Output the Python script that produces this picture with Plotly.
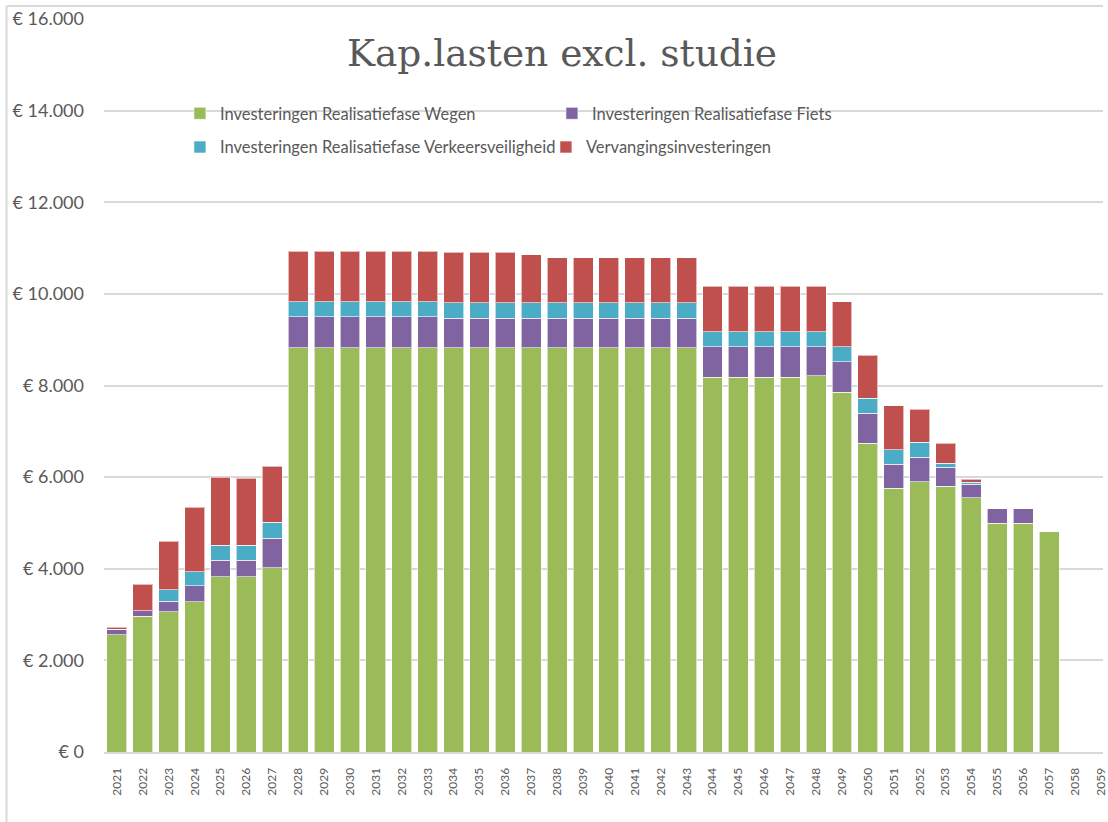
"""Stacked capital charges chart (Kap.lasten excl. studie)."""

import plotly.graph_objects as go


# ── Data ──────────────────────────────────────────────────────────────────────

YEARS = [
    "2021", "2022", "2023", "2024", "2025", "2026", "2027", "2028", "2029", "2030",
    "2031", "2032", "2033", "2034", "2035", "2036", "2037", "2038", "2039", "2040",
    "2041", "2042", "2043", "2044", "2045", "2046", "2047", "2048", "2049", "2050",
    "2051", "2052", "2053", "2054", "2055", "2056", "2057", "2058", "2059",
]

WEGEN = [
    2557, 2965, 3059, 3277, 3823, 3823, 4018, 8829, 8829, 8829,
    8829, 8829, 8829, 8829, 8829, 8829, 8829, 8829, 8829, 8829,
    8829, 8829, 8829, 8175, 8175, 8175, 8175, 8210, 7848, 6743,
    5762, 5901, 5806, 5550, 4992, 4992, 4811, 0, 0,
]

FIETS = [
    118, 115, 233, 356, 363, 363, 647, 669, 669, 669,
    669, 669, 669, 638, 638, 638, 638, 638, 638, 638,
    638, 638, 638, 676, 676, 676, 676, 641, 670, 647,
    523, 530, 407, 299, 320, 320, 0, 0, 0,
]

VERKEERSVEILIGHEID = [
    0, 0, 247, 306, 327, 327, 349, 334, 334, 334,
    334, 334, 334, 336, 336, 336, 336, 336, 336, 336,
    336, 336, 336, 327, 327, 327, 327, 327, 333, 334,
    314, 335, 94, 37, 0, 0, 0, 0, 0,
]

VERVANGING = [
    43, 583, 1061, 1402, 1482, 1460, 1221, 1097, 1097, 1097,
    1097, 1097, 1097, 1104, 1104, 1104, 1054, 981, 981, 981,
    981, 981, 981, 988, 988, 988, 988, 988, 974, 938,
    957, 719, 436, 66, 0, 0, 0, 0, 0,
]

SERIES = [
    ("Investeringen Realisatiefase Wegen", WEGEN, "#9BBB59", "legend"),
    ("Investeringen Realisatiefase Fiets", FIETS, "#8064A2", "legend"),
    ("Investeringen Realisatiefase Verkeersveiligheid", VERKEERSVEILIGHEID, "#4BACC6", "legend2"),
    ("Vervangingsinvesteringen", VERVANGING, "#C0504D", "legend2"),
]

TITLE = "Kap.lasten excl. studie"
GREY = "#595959"
GRID = "#d9d9d9"


# ── Figure ────────────────────────────────────────────────────────────────────

fig = go.Figure()
for name, values, color, legend in SERIES:
    fig.add_trace(go.Bar(
        x=YEARS, y=values, name=name, legend=legend,
        marker=dict(color=color, line=dict(color="rgba(255,255,255,0.6)", width=1)),
    ))

legend_style = dict(
    orientation="h", xanchor="left", yanchor="middle", x=0.076,
    bgcolor="rgba(0,0,0,0)", traceorder="normal",
    font=dict(family="Lato", size=16.5, color=GREY),
)

fig.update_layout(
    width=1108, height=822,
    barmode="stack", bargap=0.23,
    paper_bgcolor="white", plot_bgcolor="white",
    margin=dict(l=104, r=0, t=19, b=70),
    font=dict(family="Lato", color=GREY),
    title=dict(
        text=TITLE, x=0.5072, xref="container", xanchor="center",
        y=0.9355, yref="container", yanchor="middle",
        font=dict(family="DejaVu Serif", size=37.5, color=GREY),
    ),
    legend=dict(y=0.871, entrywidth=327, **legend_style),
    legend2=dict(y=0.825, entrywidth=321, **legend_style),
    showlegend=True,
    xaxis=dict(
        type="category", range=[-0.5, 38.08], tickangle=-90,
        showgrid=False, showline=True, linecolor=GRID, linewidth=2,
        ticks="", ticklabelstandoff=9, ticklabeloverflow="allow",
        tickfont=dict(family="Lato", size=12, color=GREY),
    ),
    yaxis=dict(
        range=[0, 16000], dtick=2000, tickprefix="€ ", tickformat=",d",
        showgrid=True, gridcolor=GRID, gridwidth=2, zeroline=False,
        showline=False, ticks="", ticklabelstandoff=19, ticklabeloverflow="allow",
        tickfont=dict(family="Lato", size=18, color=GREY),
    ),
    separators=",.",
)

# chart-area border (left and top edges visible in the crop)
fig.add_shape(type="line", xref="paper", yref="paper",
              x0=-0.0976, x1=1.0, y0=1.0177, y1=1.0177,
              line=dict(color=GRID, width=2))
fig.add_shape(type="line", xref="paper", yref="paper",
              x0=-0.0976, x1=-0.0976, y0=-0.1, y1=1.0177,
              line=dict(color=GRID, width=2))

# drop the default body margin so the figure fills the window exactly
fig.write_html(
    "out.html",
    config={"displayModeBar": False},
    post_script="document.body.style.margin='0';",
)
